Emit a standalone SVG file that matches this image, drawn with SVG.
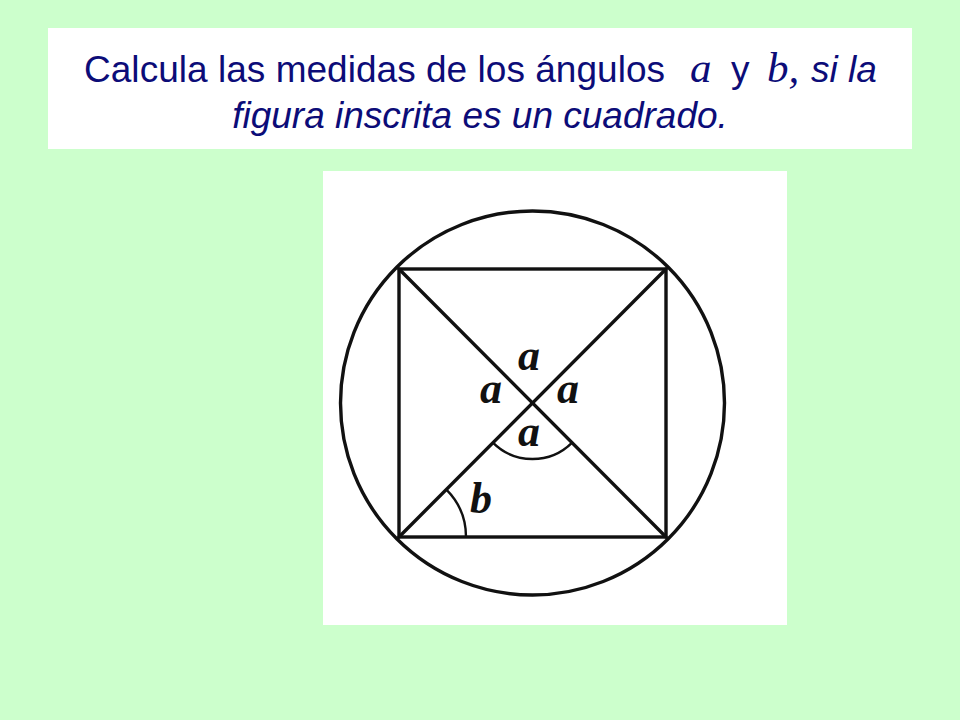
<svg xmlns="http://www.w3.org/2000/svg" width="960" height="720" viewBox="0 0 960 720">
<style>
.t{font-family:"Liberation Sans",Arial,sans-serif;font-size:37px;fill:#0c0c78}
.ti{font-family:"Liberation Sans",Arial,sans-serif;font-size:37px;font-style:italic;fill:#0c0c78}
.v{font-family:"Liberation Serif","Times New Roman",serif;font-size:43px;font-style:italic;fill:#0c0c78}
.ln{stroke:#111;stroke-width:3.4;fill:none;stroke-linecap:round}
.arc{stroke:#111;stroke-width:2.4;fill:none}
.lbl{font-family:"Liberation Serif","Times New Roman",serif;font-size:44px;font-style:italic;font-weight:bold;fill:#111;text-anchor:middle}
</style>
<rect x="0" y="0" width="960" height="720" fill="#ccffcc"/>
<g id="title">
<rect x="48" y="28" width="864" height="121" fill="#ffffff"/>
<text class="t" x="84" y="82" textLength="581" lengthAdjust="spacing">Calcula las medidas de los ángulos</text>
<text class="v" x="690" y="82">a</text>
<text class="t" x="731" y="82">y</text>
<text class="v" x="767" y="82">b,</text>
<text class="ti" x="811" y="82">si la</text>
<text class="ti" x="480" y="128" text-anchor="middle">figura inscrita es un cuadrado.</text>
</g>
<g id="figure">
<rect x="323" y="171" width="464" height="454" fill="#ffffff"/>
<circle class="ln" cx="532.5" cy="403" r="192"/>
<rect class="ln" x="399" y="269" width="267" height="268"/>
<g id="diagonals">
<line class="ln" x1="399" y1="269" x2="666" y2="537"/>
<line class="ln" x1="666" y1="269" x2="399" y2="537"/>
</g>
<path class="arc" d="M 492.9 442.6 A 56 56 0 0 0 572.1 442.6"/>
<path class="arc" d="M 446.4 489.6 A 67 67 0 0 1 466 537"/>
<text class="lbl" x="529" y="370">a</text>
<text class="lbl" x="491" y="403">a</text>
<text class="lbl" x="568" y="403">a</text>
<text class="lbl" x="529" y="446">a</text>
<text class="lbl" x="481" y="513">b</text>
</g>
</svg>
